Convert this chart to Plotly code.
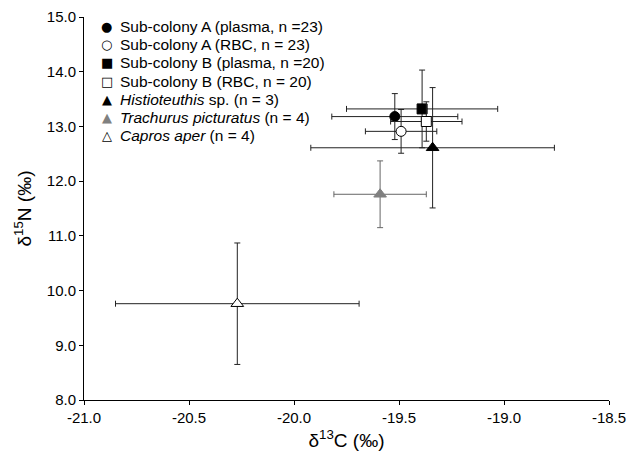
import plotly.graph_objects as go

names = [
    "Sub-colony A (plasma, n =23)",
    "Sub-colony A (RBC, n = 23)",
    "Sub-colony B (plasma, n =20)",
    "Sub-colony B (RBC, n = 20)",
    "<i>Histioteuthis</i> sp. (n = 3)",
    "<i>Trachurus picturatus</i> (n = 4)",
    "<i>Capros aper</i> (n = 4)",
]
d13C = [-19.52, -19.49, -19.39, -19.37, -19.34, -19.59, -20.27]
d13C_sd = [0.30, 0.17, 0.36, 0.17, 0.58, 0.22, 0.58]
d15N = [13.18, 12.91, 13.32, 13.09, 12.61, 11.76, 9.76]
d15N_sd = [0.42, 0.40, 0.71, 0.36, 1.10, 0.61, 1.11]

symbols = ["circle", "circle", "square", "square", "triangle-up", "triangle-up", "triangle-up"]
legend_glyphs = ["●", "○", "■", "□", "▲", "▲", "△"]
fills = ["black", "white", "black", "white", "black", "#808080", "white"]
edges = ["black", "black", "black", "black", "black", "#808080", "black"]
glyph_col = ["black", "black", "black", "black", "black", "#808080", "black"]
barcol = ["#222", "#222", "#222", "#222", "#222", "#666", "#222"]
sizes = [10, 10, 10, 10, 11, 11, 11]

x_ticks = [-21.0, -20.5, -20.0, -19.5, -19.0, -18.5]
y_ticks = [8.0, 9.0, 10.0, 11.0, 12.0, 13.0, 14.0, 15.0]

fig = go.Figure()
for i in range(len(names)):
    fig.add_trace(go.Scatter(
        x=[d13C[i]], y=[d15N[i]], mode="markers", name=names[i],
        showlegend=False,
        marker=dict(symbol=symbols[i], size=sizes[i], color=fills[i],
                    line=dict(color=edges[i], width=1)),
        error_x=dict(type="data", array=[d13C_sd[i]], color=barcol[i], thickness=1, width=3),
        error_y=dict(type="data", array=[d15N_sd[i]], color=barcol[i], thickness=1, width=3),
    ))

# hand-built legend (tight spacing like the reference)
leg_y0, leg_dy = 0.975, 0.0475
for i in range(len(names)):
    yy = leg_y0 - i * leg_dy
    fig.add_annotation(xref="paper", yref="paper", x=0.0438, y=yy, text=legend_glyphs[i],
                       showarrow=False, xanchor="center", yanchor="middle",
                       font=dict(family="DejaVu Sans", size=13, color=glyph_col[i]))
    fig.add_annotation(xref="paper", yref="paper", x=0.0647, y=yy, text=names[i],
                       showarrow=False, xanchor="left", yanchor="middle",
                       font=dict(size=15.5, color="black"))

fig.update_layout(
    width=630, height=454,
    margin=dict(l=84, r=21, t=17, b=54, autoexpand=False),
    plot_bgcolor="white", paper_bgcolor="white",
    font=dict(family="Liberation Sans, Arial, sans-serif", size=15, color="black"),
    showlegend=False,
)
fig.update_xaxes(
    range=[-21.0, -18.5], tickvals=x_ticks, ticktext=["%.1f" % v for v in x_ticks],
    showline=True, linecolor="black", linewidth=1, ticks="outside", ticklen=4,
    tickcolor="black", showgrid=False, zeroline=False,
    title=dict(text="δ<sup>13</sup>C (‰)", font=dict(size=19), standoff=8),
)
fig.update_yaxes(
    range=[8.0, 15.0], tickvals=y_ticks, ticktext=["%.1f" % v for v in y_ticks],
    showline=True, linecolor="black", linewidth=1, ticks="outside", ticklen=4,
    tickcolor="black", showgrid=False, zeroline=False,
    title=dict(text="δ<sup>15</sup>N (‰)", font=dict(size=19), standoff=10),
)
fig.write_html("out.html", config={"displayModeBar": False},
               post_script="document.body.style.margin='0';document.body.style.overflow='hidden';")
